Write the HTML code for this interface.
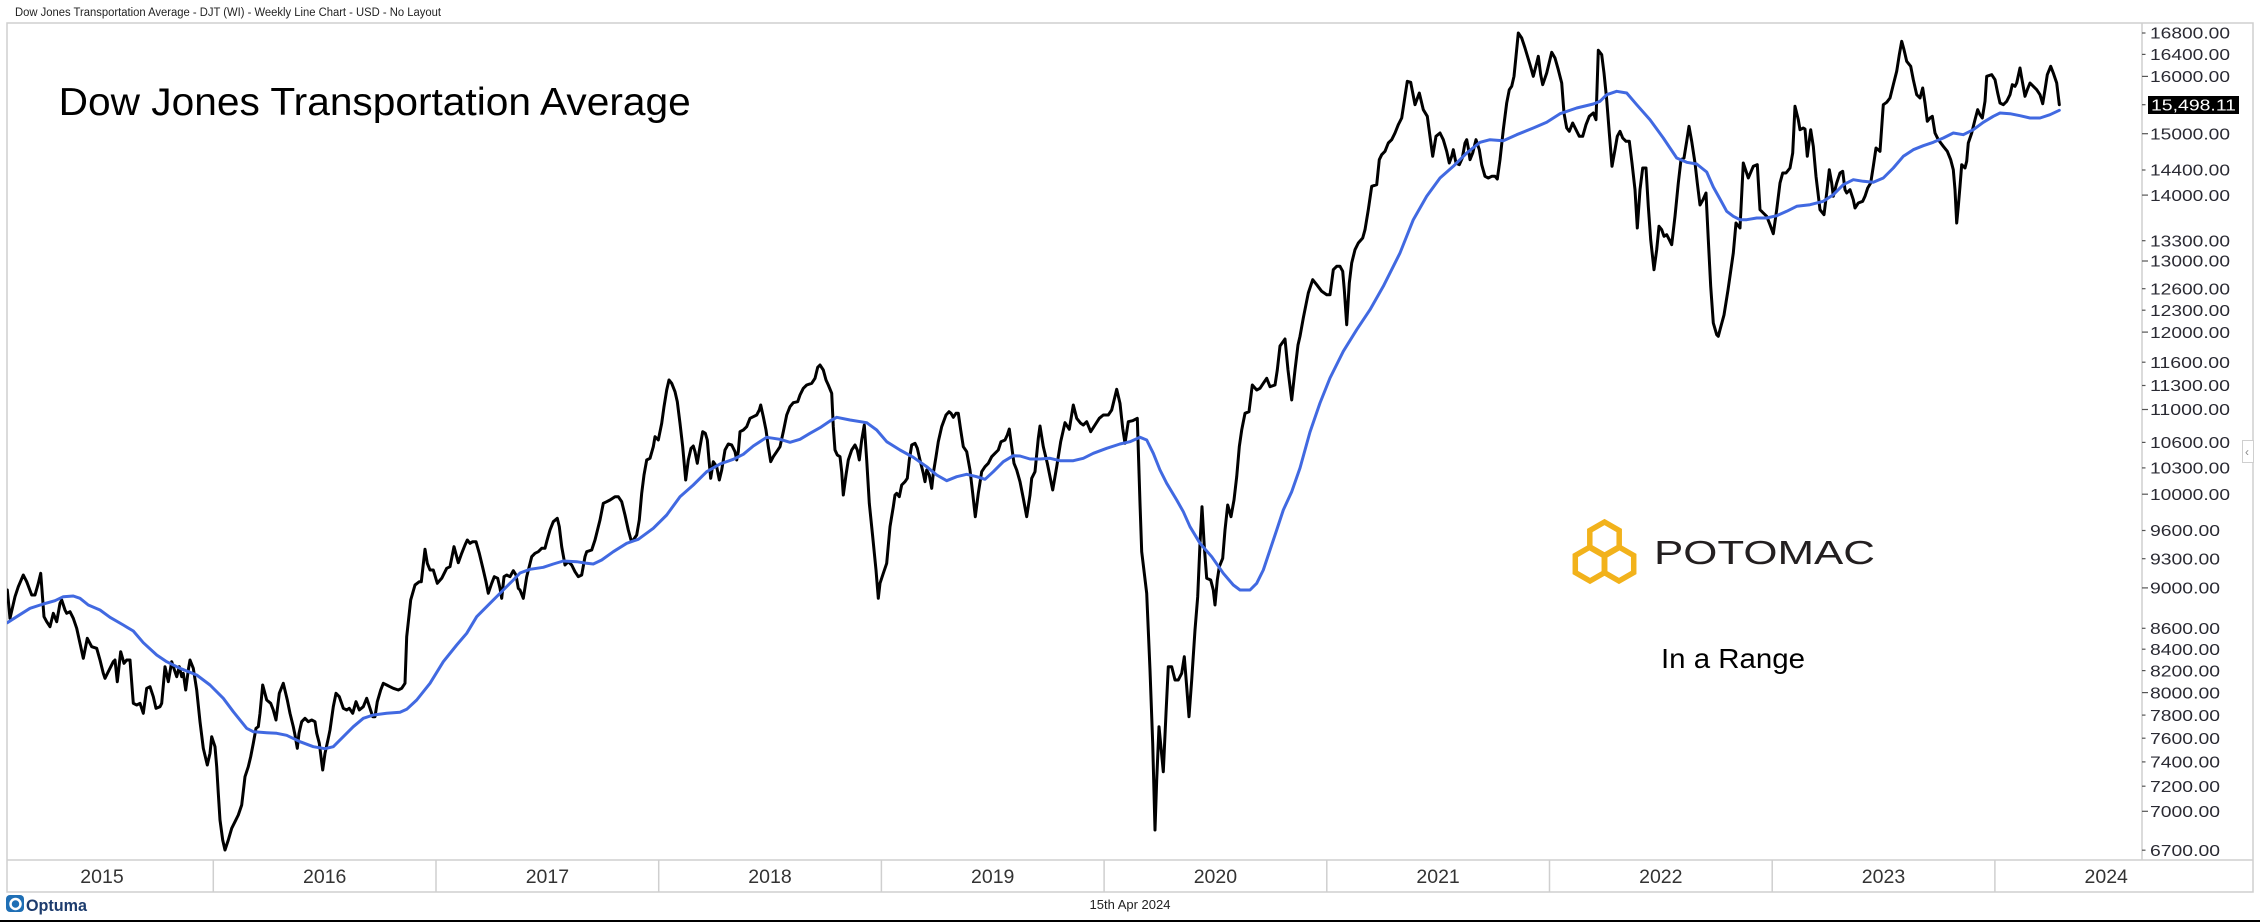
<!DOCTYPE html>
<html>
<head>
<meta charset="utf-8">
<style>
html,body{margin:0;padding:0;background:#fff;}
body{width:2260px;height:922px;overflow:hidden;position:relative;}
svg{position:absolute;left:0;top:0;display:block;}
text{font-family:"Liberation Sans",Arial,sans-serif;}
</style>
</head>
<body>
<svg width="2260" height="922" viewBox="0 0 2260 922" xmlns="http://www.w3.org/2000/svg">
<rect x="0" y="0" width="2260" height="922" fill="#ffffff"/>

<!-- top header -->
<text x="15" y="16" font-size="11.5" fill="#222" textLength="426" lengthAdjust="spacingAndGlyphs">Dow Jones Transportation Average - DJT (WI) - Weekly Line Chart - USD - No Layout</text>

<!-- frame -->
<rect x="7" y="23" width="2246" height="869" fill="none" stroke="#cfcfcf" stroke-width="1.5"/>
<line x1="2142" y1="23" x2="2142" y2="860" stroke="#cfcfcf" stroke-width="1.5"/>
<line x1="7" y1="860" x2="2253" y2="860" stroke="#cfcfcf" stroke-width="1.5"/>

<!-- year separators -->
<g stroke="#cfcfcf" stroke-width="1.5">
<line x1="213.3" y1="860" x2="213.3" y2="892"/>
<line x1="436" y1="860" x2="436" y2="892"/>
<line x1="658.7" y1="860" x2="658.7" y2="892"/>
<line x1="881.4" y1="860" x2="881.4" y2="892"/>
<line x1="1104.1" y1="860" x2="1104.1" y2="892"/>
<line x1="1326.8" y1="860" x2="1326.8" y2="892"/>
<line x1="1549.5" y1="860" x2="1549.5" y2="892"/>
<line x1="1772.2" y1="860" x2="1772.2" y2="892"/>
<line x1="1994.9" y1="860" x2="1994.9" y2="892"/>
</g>
<g font-size="19.5" fill="#333" text-anchor="middle">
<text x="102" y="883">2015</text>
<text x="324.7" y="883">2016</text>
<text x="547.4" y="883">2017</text>
<text x="770" y="883">2018</text>
<text x="992.7" y="883">2019</text>
<text x="1215.4" y="883">2020</text>
<text x="1438.1" y="883">2021</text>
<text x="1660.8" y="883">2022</text>
<text x="1883.5" y="883">2023</text>
<text x="2106.2" y="883">2024</text>
</g>

<!-- y axis ticks -->
<g stroke="#555" stroke-width="1.2">
<line x1="2142" y1="33" x2="2145.5" y2="33"/>
<line x1="2142" y1="54.4" x2="2145.5" y2="54.4"/>
<line x1="2142" y1="76.4" x2="2148" y2="76.4"/>
<line x1="2142" y1="104.7" x2="2145.5" y2="104.7"/>
<line x1="2142" y1="133.7" x2="2148" y2="133.7"/>
<line x1="2142" y1="170" x2="2145.5" y2="170"/>
<line x1="2142" y1="195.1" x2="2148" y2="195.1"/>
<line x1="2142" y1="240.7" x2="2145.5" y2="240.7"/>
<line x1="2142" y1="261" x2="2148" y2="261"/>
<line x1="2142" y1="288.7" x2="2145.5" y2="288.7"/>
<line x1="2142" y1="310.2" x2="2145.5" y2="310.2"/>
<line x1="2142" y1="332.1" x2="2148" y2="332.1"/>
<line x1="2142" y1="362.2" x2="2145.5" y2="362.2"/>
<line x1="2142" y1="385.5" x2="2145.5" y2="385.5"/>
<line x1="2142" y1="409.5" x2="2148" y2="409.5"/>
<line x1="2142" y1="442.4" x2="2145.5" y2="442.4"/>
<line x1="2142" y1="467.9" x2="2145.5" y2="467.9"/>
<line x1="2142" y1="494.2" x2="2148" y2="494.2"/>
<line x1="2142" y1="530.5" x2="2145.5" y2="530.5"/>
<line x1="2142" y1="558.7" x2="2145.5" y2="558.7"/>
<line x1="2142" y1="587.9" x2="2148" y2="587.9"/>
<line x1="2142" y1="628.3" x2="2145.5" y2="628.3"/>
<line x1="2142" y1="649.2" x2="2145.5" y2="649.2"/>
<line x1="2142" y1="670.6" x2="2145.5" y2="670.6"/>
<line x1="2142" y1="692.6" x2="2148" y2="692.6"/>
<line x1="2142" y1="715.1" x2="2145.5" y2="715.1"/>
<line x1="2142" y1="738.2" x2="2145.5" y2="738.2"/>
<line x1="2142" y1="761.9" x2="2145.5" y2="761.9"/>
<line x1="2142" y1="786.2" x2="2145.5" y2="786.2"/>
<line x1="2142" y1="811.3" x2="2148" y2="811.3"/>
<line x1="2142" y1="850.2" x2="2145.5" y2="850.2"/>
</g>
<g font-size="16" fill="#2a2a33">
<text x="2150" y="38.7" textLength="80" lengthAdjust="spacingAndGlyphs">16800.00</text>
<text x="2150" y="60.1" textLength="80" lengthAdjust="spacingAndGlyphs">16400.00</text>
<text x="2150" y="82.1" textLength="80" lengthAdjust="spacingAndGlyphs">16000.00</text>
<text x="2150" y="139.4" textLength="80" lengthAdjust="spacingAndGlyphs">15000.00</text>
<text x="2150" y="175.7" textLength="80" lengthAdjust="spacingAndGlyphs">14400.00</text>
<text x="2150" y="200.8" textLength="80" lengthAdjust="spacingAndGlyphs">14000.00</text>
<text x="2150" y="246.4" textLength="80" lengthAdjust="spacingAndGlyphs">13300.00</text>
<text x="2150" y="266.7" textLength="80" lengthAdjust="spacingAndGlyphs">13000.00</text>
<text x="2150" y="294.4" textLength="80" lengthAdjust="spacingAndGlyphs">12600.00</text>
<text x="2150" y="315.9" textLength="80" lengthAdjust="spacingAndGlyphs">12300.00</text>
<text x="2150" y="337.8" textLength="80" lengthAdjust="spacingAndGlyphs">12000.00</text>
<text x="2150" y="367.9" textLength="80" lengthAdjust="spacingAndGlyphs">11600.00</text>
<text x="2150" y="391.2" textLength="80" lengthAdjust="spacingAndGlyphs">11300.00</text>
<text x="2150" y="415.2" textLength="80" lengthAdjust="spacingAndGlyphs">11000.00</text>
<text x="2150" y="448.1" textLength="80" lengthAdjust="spacingAndGlyphs">10600.00</text>
<text x="2150" y="473.6" textLength="80" lengthAdjust="spacingAndGlyphs">10300.00</text>
<text x="2150" y="499.9" textLength="80" lengthAdjust="spacingAndGlyphs">10000.00</text>
<text x="2150" y="536.2" textLength="70" lengthAdjust="spacingAndGlyphs">9600.00</text>
<text x="2150" y="564.4" textLength="70" lengthAdjust="spacingAndGlyphs">9300.00</text>
<text x="2150" y="593.6" textLength="70" lengthAdjust="spacingAndGlyphs">9000.00</text>
<text x="2150" y="634" textLength="70" lengthAdjust="spacingAndGlyphs">8600.00</text>
<text x="2150" y="654.9" textLength="70" lengthAdjust="spacingAndGlyphs">8400.00</text>
<text x="2150" y="676.3" textLength="70" lengthAdjust="spacingAndGlyphs">8200.00</text>
<text x="2150" y="698.3" textLength="70" lengthAdjust="spacingAndGlyphs">8000.00</text>
<text x="2150" y="720.8" textLength="70" lengthAdjust="spacingAndGlyphs">7800.00</text>
<text x="2150" y="743.9" textLength="70" lengthAdjust="spacingAndGlyphs">7600.00</text>
<text x="2150" y="767.6" textLength="70" lengthAdjust="spacingAndGlyphs">7400.00</text>
<text x="2150" y="791.9" textLength="70" lengthAdjust="spacingAndGlyphs">7200.00</text>
<text x="2150" y="817" textLength="70" lengthAdjust="spacingAndGlyphs">7000.00</text>
<text x="2150" y="855.9" textLength="70" lengthAdjust="spacingAndGlyphs">6700.00</text>
</g>
<!-- current value box -->
<rect x="2148" y="96" width="91" height="18" fill="#000"/>
<text x="2151" y="110.4" font-size="16" fill="#fff" textLength="85" lengthAdjust="spacingAndGlyphs">15,498.11</text>

<!-- collapse button -->
<rect x="2242.5" y="440.5" width="11" height="22" fill="#fff" stroke="#cfcfcf" stroke-width="1"/>
<text x="2245" y="456" font-size="12" fill="#888">‹</text>

<!-- main title -->
<text x="58.7" y="115" font-size="39" fill="#000" textLength="632" lengthAdjust="spacingAndGlyphs">Dow Jones Transportation Average</text>

<!-- Potomac logo -->
<g fill="none" stroke="#f2b21b" stroke-width="5.5" stroke-linejoin="miter">
<polygon points="1604.5,522 1619.2,530.5 1619.2,547.5 1604.5,556 1589.8,547.5 1589.8,530.5"/>
<polygon points="1590,547 1604.7,555.5 1604.7,572.5 1590,581 1575.3,572.5 1575.3,555.5"/>
<polygon points="1619,547 1633.7,555.5 1633.7,572.5 1619,581 1604.3,572.5 1604.3,555.5"/>
</g>
<text x="1654" y="564" font-size="33" fill="#231f20" textLength="221" lengthAdjust="spacingAndGlyphs">POTOMAC</text>
<text x="1661" y="668" font-size="28" fill="#000" textLength="144" lengthAdjust="spacingAndGlyphs">In a Range</text>

<!-- data -->
<clipPath id="plot"><rect x="7" y="23" width="2135" height="837"/></clipPath>
<g clip-path="url(#plot)" fill="none" stroke-linejoin="round" stroke-linecap="round">
<polyline stroke="#000" stroke-width="3" points="7.3,590 10,618.3 15,596.7 18.3,586.7 23.3,575 26.7,581.7 31.7,595 35,595 38.3,583.3 40.7,573.3 44,616.7 46.7,621.7 50,626.7 53.3,613.3 56.7,621.7 60,603.3 61.7,600 65,610 66.7,613.3 70,611.7 73.3,618.3 76.7,628.3 80,643.3 83.3,658.3 87.3,638.3 91.7,646.7 96.7,648.3 100,660 103.3,673.3 105,678.3 108.3,671.7 113.3,661.7 115,660 117.3,681.7 120.7,651.7 124,663.3 126.7,660 130,660 133.3,703.3 136.7,705 140,703.3 143.3,713.3 146.7,688.3 150,686.7 153.3,696.7 156,708.3 160,706.7 161.7,703.3 165,666.7 168.3,681.7 171.7,661.7 175,671.7 176.7,676.7 179.3,666.7 181.7,676.7 183.3,673.3 185.7,690 188.3,670 190,660 193.3,668.3 196.7,690 200,721.7 203.3,748.3 207.3,765 210,753.3 211.7,736.7 215,746.7 216.7,766.7 218.3,793.3 220,820 222.7,840 225,850 228.3,840 231.7,828.3 235,821.7 238.3,815 241.7,805 245,776.7 248.3,766.7 250.7,756.7 253.3,743.3 256,728.3 258.3,726.7 260,713.3 262.7,685 266.7,700 270.7,703.3 273.3,710 276,720 279.3,693.3 283.3,683.3 287.3,700 290,713.3 293.3,726.7 295,735 297.3,748.3 299,733.3 301.7,721.7 305,718.3 308.3,721.7 311.7,720 315,721.7 316.7,733.3 319.3,743.3 322.7,770 325,753.3 328.3,738.3 330,730 333.3,706.7 336,693.3 339.3,696.7 343.3,708.3 346.7,710 349.3,708.3 352.7,713.3 356,701.7 359.3,710 363.3,706.7 366.7,698.3 370,708.3 372.7,716.7 375,716.7 377.3,701.7 380.7,690 383.3,683.3 386.7,685 390,686.7 393.3,688.3 398.3,690 401.7,688.3 405,683.3 406.7,636.7 410.7,600 415,585 419.3,581.7 421.3,581.7 425,549.3 427.3,563.3 430,570 433.3,570 437.3,583.3 441.7,578.3 446.7,568.3 450,566.7 454,546.7 458.3,562.7 461.7,553.3 465,545 467.3,540 470,543.3 472.7,541.7 476,541.7 479.3,553.3 483.3,570 486,581.7 488.3,593.3 491.7,583.3 494.3,576.7 497.7,578.3 500,588.3 501.7,598.3 504,576.7 506.7,575 510,576.7 513.3,570.7 516,575 518.3,588.3 520,590 523.3,598.3 526.7,576.7 531.7,556.7 535,553.3 538.3,551.7 541.7,548.3 545,548.3 546.7,541.7 550,530 553.3,521.7 557.3,518.3 559.3,526.7 561.7,546.7 565,565 568.3,561.7 571.7,565 575,571.7 578.3,576.7 581.7,575 585,556.7 586.7,551.7 591.7,550 595,540 600,520 603.3,503.3 606.7,501.7 610,500 615,496.7 618.3,496.7 621.7,501.7 625,515 628.3,530 631,540 633.3,540 636.7,535 639.3,520 641.7,493.3 644,475 646.7,460 650,458.3 653.3,446.7 655,436.7 658.3,440 661.7,423.3 664,406.7 666.7,390 669,380 671.7,383.3 675,391.7 677.3,401.7 680,423.3 682.7,446.7 685.7,480 688.3,460 691,448.3 693.3,446 695,451.7 697.3,463.3 700,446.7 702.7,431.7 705.3,433.3 707.3,440 709,460 710.7,478.3 713.3,461.7 716.7,466.7 719.3,480 721.7,470 725,450 728.3,444 731.7,445 735,451.7 736.7,460 738.3,451.7 740,431.7 743.3,430 746.7,426.7 750,418.3 753.3,416.7 756.7,415 759.3,410 760.7,405 763.3,416.7 766,430 768.3,446.7 770.7,461.7 773.3,456.7 776.7,451.7 780,446.7 783.3,431.7 786.7,415 790,406.7 793.3,402.7 797.7,401.7 800,395 803.3,388.3 806.7,385 811.7,383.3 815,378.3 817.7,367.3 820,365 823.3,370 826,380 828.3,385 831.7,393.3 833.3,426.7 835,450 837.3,455 840,456.7 841.7,471.7 843.3,495 846,475 848.3,460 851.7,450 855,445 857.3,450 859.3,460 861.7,440 864.3,425 866.7,460 869.3,503.3 872.7,536.7 876,570 878.3,598.3 880,583.3 883.3,573.3 886.7,563.3 890,526.7 893.3,506.7 895,495 896.7,493.3 899.3,496.7 901.7,485 905,481.7 907.3,478.3 909.3,460 911.7,445 915,443.3 917.3,448.3 920,460 923.3,473.3 925,481.7 926.7,470 929.3,475 931.7,488.3 933.3,473.3 936,456.7 938.3,441.7 941.7,426.7 946,415 949,411.7 951,413.3 953.3,417.3 956,413.3 958.3,413.3 960.7,430 963.3,446.7 966.7,451.7 970,470 972.7,493.3 975.3,516.7 978.3,493.3 981.7,471.7 985,466.7 988.3,463.3 991.7,456.7 995,453.3 998.3,450 1001,441.7 1005,440 1007.3,435 1009.3,429 1011.7,446.7 1014,463.3 1016.7,470 1020,481.7 1023.3,498.3 1026.7,516.7 1030,495 1031.7,478.3 1035,471.7 1038.3,438.3 1040,426 1043.3,446.7 1047.3,463.3 1052.7,490 1056.7,466.7 1060.7,441.7 1065,422.7 1069.3,429.3 1073.3,405 1076.7,418.3 1080.7,423.3 1083.3,425 1086.7,421.7 1090.7,431.7 1095,425 1099.3,418.3 1103.3,415 1108.3,415 1111.7,410 1116.7,389.3 1120,403.3 1122.7,428.3 1125,443.3 1128.3,421.7 1132.7,420.7 1137.3,418.3 1140,503.3 1141.7,551.7 1146.7,593.3 1150,670 1152.7,743.3 1155,830 1156.7,780 1159,726.7 1163.3,771.7 1166,713.3 1168.3,666.7 1171.7,666.7 1175,680 1178.3,680 1181.7,673.3 1184.3,656.7 1186.7,686.7 1189,716.7 1191.7,680 1195,630 1197.7,596.7 1200,543.3 1202,506.7 1204.3,546.7 1206.7,578.3 1210.7,580 1213.3,590 1215,605 1217.3,580 1219.3,566.7 1222.7,558.3 1225,530 1227.7,505 1231,516.7 1234,500 1236.7,476.7 1239.3,446.7 1241.7,430 1245,413.3 1249,411.7 1252.3,385 1256.7,390 1260,388.3 1263.3,383.3 1266.7,378.3 1270,386.7 1275,385 1277.3,370 1280,346 1285,339 1288,370 1291.7,400 1295,370 1298,345 1300,336.3 1303.3,318 1308.3,293 1312.7,279.7 1316.7,284.7 1321.7,291.3 1326.7,294.7 1330,294.7 1333.3,269.7 1336.7,266.3 1340,266.3 1342.7,271.3 1344.3,289.7 1346.7,324.7 1349.3,283 1351.7,263 1355,249.7 1358.3,243 1362.7,238 1365,229.7 1368.3,209.7 1371.7,186.3 1376.7,184.7 1379.3,159.7 1381.7,154.7 1385,151.3 1388.3,143 1391.7,139.7 1395,133 1398.3,124.7 1401.7,118 1405,96.3 1407.3,81.3 1410.7,82.3 1415,104.7 1419.3,93 1423.3,109.7 1427.3,116.3 1430,136.3 1432.7,156.3 1436,136.3 1440,133 1443.3,139.7 1446.7,151.3 1449.3,163 1451.7,156.3 1453.3,149.7 1456,163 1459.3,164.7 1462.3,158 1465,143 1466.7,139.7 1468.3,148 1470,159.7 1472.7,153 1476,139.7 1479.3,149.7 1481.7,164.7 1485,176.3 1488.3,178 1491.7,176.3 1495,176.3 1497.3,179 1500,159.7 1503.3,129.7 1506.7,103 1509.3,89.7 1511.7,86.3 1514,76.3 1516,56.3 1518.3,33 1521.7,38 1525,48 1530,64.7 1533.3,76.3 1536.7,63 1538.3,56.3 1540.7,74.7 1542.7,84.7 1546.7,73 1551.7,52.3 1555,58 1558.3,69.7 1561.7,83 1564,113 1566.7,128 1569.3,131.3 1572.7,123 1576,129.7 1579.3,136.3 1582.7,136.3 1586,124.7 1589.3,116.3 1593.3,113 1596,119.7 1598.3,50.3 1601.7,54.7 1604,73 1606.7,99.7 1609.3,133 1612,166.3 1615,149.7 1617.3,136.3 1620,131.3 1622.7,138 1626,141.3 1629.3,141.3 1632,163 1635,189.7 1637.3,228 1640,189.7 1642.7,168 1646,168 1648.3,206.3 1650.7,239.7 1654,269.7 1656.7,249.7 1659,226.3 1661.7,229.7 1664,236.3 1666.7,234.7 1669.3,239.7 1671.7,244.7 1675,216.3 1678.3,183 1681,159.7 1684,158 1686.7,141.3 1689,126.3 1691.7,141.3 1695,163 1697.3,183 1700,205 1703,199.7 1706,193 1708.3,239.7 1710.7,286.3 1713.3,323 1716.7,334.7 1718.3,336.3 1720,329.7 1724,315 1728,290 1733.3,253 1736,223 1740,228 1743.3,163 1748.3,178 1753.3,166.3 1757.3,164.7 1760,209.7 1763.3,213 1766.7,216.3 1770,224.7 1773.3,233.7 1776.7,209.7 1780,183 1782.7,173 1786,173 1790,168 1792.7,153 1795,106.3 1798.3,119.7 1800,129.7 1803.3,128 1805,129 1807.3,156.3 1810.7,129.7 1813.3,146.3 1816,176.3 1820,209.7 1824,214.7 1826.7,193 1829.3,169.7 1831.7,183 1833.3,196.3 1836.7,183 1840,173 1842.7,171.3 1845,189.7 1846.7,193 1850,189.7 1853.3,199.7 1855,208 1858.3,203 1862.7,201.3 1865,196.3 1867.7,188 1870.7,183 1873.3,166.3 1876,148 1880,151.3 1883.3,104.7 1886.7,102.3 1890,98 1893.3,84.7 1896.7,71.3 1899.3,54.7 1901.7,41.3 1904,49.7 1906.7,61.3 1910.7,66.3 1913.3,79.7 1916.7,94.7 1920,98 1922.7,88 1925,103 1927.3,121.3 1930,118 1932.3,116.3 1935,133 1938.3,139.7 1943.3,146.3 1947.3,151.3 1950.7,159.7 1953.3,169.7 1955,189.7 1956.7,223 1958.3,206.3 1960,186.3 1961.7,164.7 1965,168 1966.7,161.3 1968.3,143 1971.7,133 1975,119.7 1977.7,109.7 1980,114.7 1982.3,118 1985,101.3 1986.7,76.3 1991.7,74.7 1995,79.7 1997.7,93 2000,103 2003.3,104.7 2006.7,101.3 2010,94.7 2012.3,84.7 2015,86.3 2016.7,83 2020,68 2021.7,78 2025,96.3 2027.3,89.7 2030,83 2033.3,86.3 2036.7,89.7 2040,94.7 2042.7,103.7 2045,89.7 2047.3,74.7 2050.7,66.3 2053.3,73 2056.7,83 2059.3,104.7"/>
<polyline stroke="#4169e1" stroke-width="3" points="7.3,622.7 16.7,616.7 30,608.3 43.3,604 55,600.7 63.3,596.7 73.3,596 80,598.3 88.3,605 100,610 110,617.3 123.3,625 133.3,631 143.3,642.7 156.7,655 166.7,661.7 180,668.3 196.7,675 210,685 223.3,698.3 233.3,711.7 246.7,728.3 253.3,731.7 266.7,732.7 276.7,733.3 286.7,735.3 300,741.7 313.3,746.7 325,748.7 333.3,746.7 343.3,736.7 353.3,726.7 363.3,718.3 373.3,715 386.7,713.3 400,712.3 406.7,709.3 416.7,700 430,683.3 443.3,661.7 456.7,645 466.7,633.3 476.7,616.7 490,603.3 503.3,590 513.3,580 520,573 530,569.3 543.3,567.3 553.3,564 563.3,561 576.7,561.7 586.7,563.3 593.3,564 601.7,560 613.3,551.7 626.7,543.3 638.3,539.3 653.3,528.3 666.7,515 680,496.7 693.3,485 706.7,471.7 720,464 733.3,459.3 743.3,454.3 753.3,446 766.7,437.3 780,439.3 790,442.3 800,439.3 810,433.3 820,427.7 830,421 836.7,417.3 850,420 866.7,422.7 876.7,430 886.7,441.7 900,450 913.3,457.3 926.7,466.7 936.7,475 946.7,480.7 956.7,476.7 966.7,474.3 976.7,476.7 985,479.3 993.3,471.7 1003.3,461.7 1013.3,455.7 1020,456 1030,459 1040,459 1050,458.3 1060,460.7 1073.3,460.7 1083.3,458.3 1093.3,453.3 1106.7,448.3 1120,444 1130,441.7 1140,437.3 1146.7,440 1153.3,453.3 1160,470 1166.7,483.3 1176.7,500 1183.3,511.7 1190,526.7 1200,543.3 1211.7,556.7 1223.3,573.3 1233.3,585 1240,590 1250,590 1256.7,583.3 1263.3,570 1270,550 1276.7,530 1283.3,510 1291.7,491.7 1300,468 1310,432 1320,403 1330,378 1343.3,351.3 1356.7,329.7 1370,309.7 1383.3,286.3 1400,253 1413.3,219.7 1426.7,196.3 1440,178 1453.3,166.3 1466.7,153 1480,142.3 1490,139.7 1503.3,140.7 1516.7,134.7 1533.3,128 1546.7,122.3 1560,113.7 1576.7,108 1593.3,104 1600,101.3 1606.7,94.7 1616.7,91.3 1626.7,93 1636.7,104.7 1650,119.7 1663.3,138 1676.7,158 1686.7,162.3 1696.7,164 1706.7,172 1713.3,187 1720,199 1726.7,211.3 1733.3,216.3 1740,219.7 1746.7,219.7 1756.7,218 1766.7,218 1776.7,215.7 1786.7,211.3 1796.7,206.3 1810,204.7 1823.3,201.3 1833.3,194.7 1843.3,184.7 1853.3,179.7 1863.3,181.3 1873.3,182.3 1883.3,178 1893.3,168 1903.3,156.3 1913.3,149.7 1923.3,145.7 1933.3,142.3 1943.3,138 1953.3,133 1963.3,134.7 1973.3,129.7 1983.3,122.3 1993.3,116.3 2000,113 2010,113.7 2020,115.7 2030,118 2040,118 2050,114.7 2059.3,110.3"/>
</g>

<!-- footer -->
<rect x="6" y="895" width="18" height="17" rx="4" fill="#1f6fb5"/>
<circle cx="15.5" cy="904" r="5" fill="none" stroke="#fff" stroke-width="2.5"/>
<text x="26" y="911" font-size="17" font-weight="bold" fill="#1d3c6e" textLength="61" lengthAdjust="spacingAndGlyphs">Optuma</text>
<text x="1130" y="909" font-size="12.5" fill="#222" text-anchor="middle" textLength="81" lengthAdjust="spacingAndGlyphs">15th Apr 2024</text>

<rect x="0" y="920" width="2260" height="2" fill="#000"/>
</svg>
</body>
</html>
